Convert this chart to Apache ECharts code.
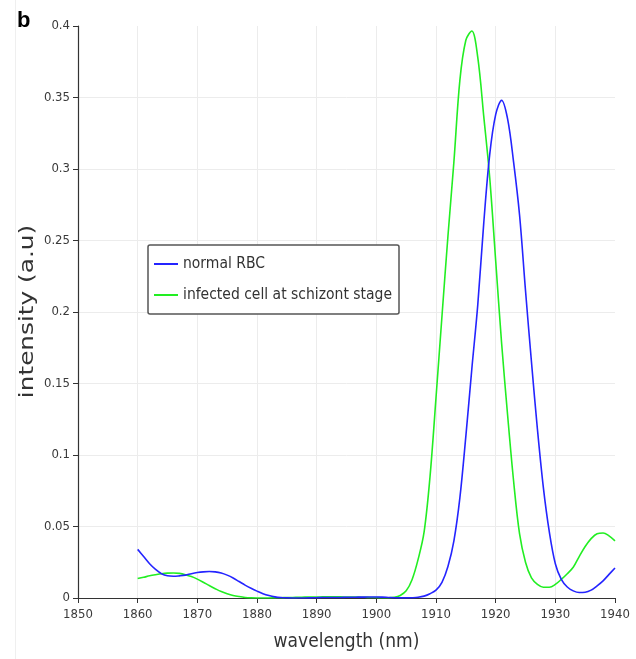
<!DOCTYPE html>
<html>
<head>
<meta charset="utf-8">
<script src="https://cdn.jsdelivr.net/npm/echarts@6/dist/echarts.min.js"></script>
<style>
  html, body { margin: 0; padding: 0; background: #fff; }
  #chart { width: 636px; height: 659px; }
</style>
</head>
<body>
<div id="chart"></div>
<script>
// ---- data ----
const wavelength = [
  1860,1861,1862,1863,1864,1865,1866,1867,1868,1869,
  1870,1871,1872,1873,1874,1875,1876,1877,1878,1879,
  1880,1881,1882,1883,1884,1885,1886,1887,1888,1889,
  1890,1891,1892,1893,1894,1895,1896,1897,1898,1899,
  1900,1901,1902,1903,1904,1905,1906,1907,1908,1909,
  1910,1911,1912,1913,1914,1915,1916,1917,1918,1919,
  1920,1921,1922,1923,1924,1925,1926,1927,1928,1929,
  1930,1931,1932,1933,1934,1935,1936,1937,1938,1939,
  1940
];
const normalRBC = [
  0.034,0.029,0.024,0.020,0.017,0.0155,0.0152,0.0155,0.016,0.017,
  0.0178,0.0183,0.0185,0.0183,0.0175,0.016,0.014,0.0115,0.009,0.0068,
  0.0048,0.003,0.0017,0.0008,0.0003,0.0001,0,0,0,0.0001,
  0.0002,0.0003,0.0003,0.0004,0.0004,0.0005,0.0005,0.0006,0.0006,0.0007,
  0.0007,0.0006,0.0004,0.0002,0.0001,0.0001,0.0002,0.0005,0.0013,0.003,
  0.0055,0.011,0.022,0.04,0.07,0.113,0.16,0.205,0.262,0.31,
  0.338,0.348,0.335,0.305,0.268,0.215,0.165,0.118,0.077,0.046,
  0.024,0.013,0.0077,0.005,0.0038,0.004,0.0055,0.0085,0.012,0.0165,
  0.021
];
const infectedCell = [
  0.0136,0.0145,0.0155,0.0163,0.017,0.0174,0.0175,0.0172,0.0163,0.015,
  0.0132,0.011,0.0087,0.0065,0.0045,0.003,0.0018,0.001,0.0004,0.0001,
  0,0,0,0.0001,0.0002,0.0003,0.0004,0.0005,0.0006,0.0007,
  0.0007,0.0008,0.0008,0.0008,0.0008,0.0007,0.0007,0.0006,0.0005,0.0004,
  0.0003,0.0002,0.0002,0.0005,0.0018,0.005,0.013,0.027,0.046,0.085,
  0.14,0.197,0.253,0.305,0.362,0.39,0.3965,0.378,0.337,0.294,
  0.236,0.178,0.128,0.082,0.045,0.025,0.014,0.0095,0.0075,0.0075,
  0.0095,0.013,0.017,0.0215,0.029,0.036,0.0415,0.045,0.0455,0.0435,
  0.040
];
const seriesNames = ['normal RBC', 'infected cell at schizont stage'];
const seriesColors = ['#2424ff', '#22ee22'];
const xTitle = 'wavelength (nm)';
const yTitle = 'intensity (a.u)';
const panelLabel = 'b';

// ---- chart ----
const chart = echarts.init(document.getElementById('chart'), null, { renderer: 'canvas' });
const tickFont = 'DejaVu Sans Condensed';

const option = {
  animation: false,
  backgroundColor: '#ffffff',
  grid: { left: 78, right: 21, top: 26, bottom: 61, containLabel: false },
  xAxis: {
    type: 'value',
    min: 1850, max: 1940, interval: 10,
    name: xTitle,
    nameLocation: 'middle',
    nameGap: 35,
    nameTextStyle: { fontFamily: 'DejaVu Sans Condensed', fontSize: 19, color: '#333' },
    axisLine: { show: true, lineStyle: { color: '#333', width: 1.2 } },
    axisTick: { show: true, length: 5, lineStyle: { color: '#333', width: 1 } },
    axisLabel: { margin: 10, fontFamily: tickFont, fontSize: 13, color: '#3a3a3a',
                 formatter: v => String(v) },
    splitLine: { show: true, showMinLine: false, showMaxLine: false, lineStyle: { color: '#ececec', width: 1 } }
  },
  yAxis: {
    type: 'value',
    min: 0, max: 0.4, interval: 0.05,
    axisLine: { show: true, lineStyle: { color: '#333', width: 1.2 } },
    axisTick: { show: true, length: 5, lineStyle: { color: '#333', width: 1 } },
    axisLabel: { margin: 8, fontFamily: tickFont, fontSize: 13, color: '#3a3a3a',
                 formatter: v => String(Math.round(v * 100) / 100) },
    splitLine: { show: true, showMinLine: false, showMaxLine: false, lineStyle: { color: '#ececec', width: 1 } }
  },
  legend: {
    show: true,
    orient: 'vertical',
    left: 148, top: 245,
    padding: [11, 7, 11, 6],
    itemGap: 15,
    icon: 'rect',
    itemWidth: 24, itemHeight: 2,
    borderColor: '#555', borderWidth: 1.5, borderRadius: 2,
    backgroundColor: '#fff',
    textStyle: { fontFamily: 'DejaVu Sans Condensed', fontSize: 15.5, color: '#333', padding: [0, 0, 0, 0] },
    data: seriesNames
  },
  graphic: [
    { type: 'line', silent: true, z: -10,
      shape: { x1: 15.5, y1: 0, x2: 15.5, y2: 659 },
      style: { stroke: '#efefef', lineWidth: 1 } },
    { type: 'text', x: 17, y: 10,
      style: { text: panelLabel, font: 'bold 22px "Liberation Sans", Arial, sans-serif', fill: '#000' } },
    { type: 'text', x: 27.5, y: 311.5, rotation: Math.PI / 2, scaleX: 1.27, scaleY: 1,
      style: { text: yTitle, font: '19.5px "DejaVu Sans", sans-serif', fill: '#333',
               textAlign: 'center', textVerticalAlign: 'middle', align: 'center', verticalAlign: 'middle' } }
  ],
  series: [
    {
      name: seriesNames[0], type: 'line',
      data: wavelength.map((w, i) => [w, normalRBC[i]]),
      smooth: 0.35, symbol: 'none', showSymbol: false,
      lineStyle: { color: seriesColors[0], width: 1.6 },
      itemStyle: { color: seriesColors[0] },
      z: 3
    },
    {
      name: seriesNames[1], type: 'line',
      data: wavelength.map((w, i) => [w, infectedCell[i]]),
      smooth: 0.35, symbol: 'none', showSymbol: false,
      lineStyle: { color: seriesColors[1], width: 1.6 },
      itemStyle: { color: seriesColors[1] },
      z: 2
    }
  ]
};
chart.setOption(option);
</script>
</body>
</html>
